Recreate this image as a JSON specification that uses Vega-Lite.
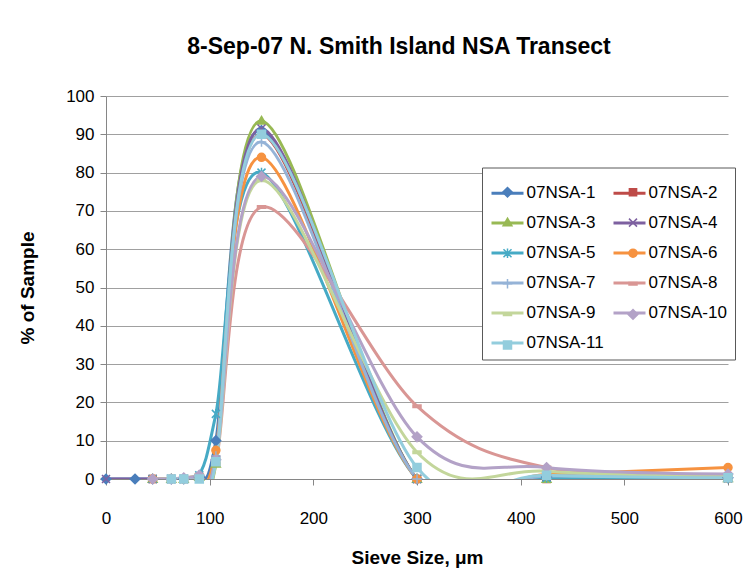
{
  "$schema": "https://vega.github.io/schema/vega-lite/v6.json",
  "width": 622,
  "height": 383,
  "autosize": "none",
  "padding": {"left": 106, "top": 96, "right": 21, "bottom": 95},
  "background": "#ffffff",
  "config": {
    "view": {"stroke": null},
    "font": "Liberation Sans"
  },
  "title": {
    "text": "8-Sep-07 N. Smith Island NSA Transect",
    "font": "Liberation Sans",
    "fontSize": 23,
    "fontWeight": "bold",
    "color": "#000000",
    "anchor": "middle",
    "dx": -18,
    "offset": 28
  },
  "data": {
    "values": [
      {"s": "07NSA-1", "x": 0, "y": 0},
      {"s": "07NSA-1", "x": 28, "y": 0},
      {"s": "07NSA-1", "x": 45, "y": 0},
      {"s": "07NSA-1", "x": 63, "y": 0},
      {"s": "07NSA-1", "x": 75, "y": 0},
      {"s": "07NSA-1", "x": 90, "y": 0.5},
      {"s": "07NSA-1", "x": 106, "y": 10},
      {"s": "07NSA-1", "x": 150, "y": 91},
      {"s": "07NSA-1", "x": 300, "y": 0},
      {"s": "07NSA-1", "x": 425, "y": 0.5},
      {"s": "07NSA-1", "x": 600, "y": 0.3},

      {"s": "07NSA-2", "x": 45, "y": 0},
      {"s": "07NSA-2", "x": 63, "y": 0},
      {"s": "07NSA-2", "x": 75, "y": 0},
      {"s": "07NSA-2", "x": 90, "y": 0.5},
      {"s": "07NSA-2", "x": 106, "y": 5},
      {"s": "07NSA-2", "x": 150, "y": 90},
      {"s": "07NSA-2", "x": 300, "y": 0},
      {"s": "07NSA-2", "x": 425, "y": 0},
      {"s": "07NSA-2", "x": 600, "y": 0.2},

      {"s": "07NSA-3", "x": 45, "y": 0},
      {"s": "07NSA-3", "x": 63, "y": 0},
      {"s": "07NSA-3", "x": 75, "y": 0},
      {"s": "07NSA-3", "x": 90, "y": 0.5},
      {"s": "07NSA-3", "x": 106, "y": 4},
      {"s": "07NSA-3", "x": 150, "y": 93.5},
      {"s": "07NSA-3", "x": 300, "y": 0},
      {"s": "07NSA-3", "x": 425, "y": 0},
      {"s": "07NSA-3", "x": 600, "y": 0.2},

      {"s": "07NSA-4", "x": 0, "y": 0},
      {"s": "07NSA-4", "x": 45, "y": 0},
      {"s": "07NSA-4", "x": 63, "y": 0},
      {"s": "07NSA-4", "x": 75, "y": 0},
      {"s": "07NSA-4", "x": 90, "y": 0.5},
      {"s": "07NSA-4", "x": 106, "y": 5},
      {"s": "07NSA-4", "x": 150, "y": 91.5},
      {"s": "07NSA-4", "x": 300, "y": 0},
      {"s": "07NSA-4", "x": 425, "y": 0.5},
      {"s": "07NSA-4", "x": 600, "y": 0.3},

      {"s": "07NSA-5", "x": 45, "y": 0},
      {"s": "07NSA-5", "x": 63, "y": 0},
      {"s": "07NSA-5", "x": 75, "y": 0},
      {"s": "07NSA-5", "x": 90, "y": 1},
      {"s": "07NSA-5", "x": 106, "y": 17},
      {"s": "07NSA-5", "x": 150, "y": 80},
      {"s": "07NSA-5", "x": 300, "y": 0},
      {"s": "07NSA-5", "x": 425, "y": 0.3},
      {"s": "07NSA-5", "x": 600, "y": 0.2},

      {"s": "07NSA-6", "x": 45, "y": 0},
      {"s": "07NSA-6", "x": 63, "y": 0},
      {"s": "07NSA-6", "x": 75, "y": 0},
      {"s": "07NSA-6", "x": 90, "y": 0.5},
      {"s": "07NSA-6", "x": 106, "y": 7.5},
      {"s": "07NSA-6", "x": 150, "y": 84},
      {"s": "07NSA-6", "x": 300, "y": 0},
      {"s": "07NSA-6", "x": 425, "y": 1.2},
      {"s": "07NSA-6", "x": 600, "y": 3},

      {"s": "07NSA-7", "x": 45, "y": 0},
      {"s": "07NSA-7", "x": 63, "y": 0},
      {"s": "07NSA-7", "x": 75, "y": 0},
      {"s": "07NSA-7", "x": 90, "y": 0.5},
      {"s": "07NSA-7", "x": 106, "y": 6},
      {"s": "07NSA-7", "x": 150, "y": 88},
      {"s": "07NSA-7", "x": 300, "y": 0},
      {"s": "07NSA-7", "x": 425, "y": 0.8},
      {"s": "07NSA-7", "x": 600, "y": 0.5},

      {"s": "07NSA-8", "x": 45, "y": 0},
      {"s": "07NSA-8", "x": 63, "y": 0},
      {"s": "07NSA-8", "x": 75, "y": 0.3},
      {"s": "07NSA-8", "x": 90, "y": 1},
      {"s": "07NSA-8", "x": 106, "y": 4},
      {"s": "07NSA-8", "x": 150, "y": 71},
      {"s": "07NSA-8", "x": 300, "y": 19},
      {"s": "07NSA-8", "x": 425, "y": 3},
      {"s": "07NSA-8", "x": 600, "y": 1},

      {"s": "07NSA-9", "x": 45, "y": 0},
      {"s": "07NSA-9", "x": 63, "y": 0},
      {"s": "07NSA-9", "x": 75, "y": 0.2},
      {"s": "07NSA-9", "x": 90, "y": 1},
      {"s": "07NSA-9", "x": 106, "y": 4},
      {"s": "07NSA-9", "x": 150, "y": 78},
      {"s": "07NSA-9", "x": 300, "y": 7},
      {"s": "07NSA-9", "x": 425, "y": 2},
      {"s": "07NSA-9", "x": 600, "y": 1},

      {"s": "07NSA-10", "x": 45, "y": 0},
      {"s": "07NSA-10", "x": 63, "y": 0},
      {"s": "07NSA-10", "x": 75, "y": 0.3},
      {"s": "07NSA-10", "x": 90, "y": 1},
      {"s": "07NSA-10", "x": 106, "y": 5},
      {"s": "07NSA-10", "x": 150, "y": 79},
      {"s": "07NSA-10", "x": 300, "y": 11},
      {"s": "07NSA-10", "x": 425, "y": 3},
      {"s": "07NSA-10", "x": 600, "y": 1.3},

      {"s": "07NSA-11", "x": 63, "y": 0},
      {"s": "07NSA-11", "x": 75, "y": 0},
      {"s": "07NSA-11", "x": 90, "y": 0},
      {"s": "07NSA-11", "x": 106, "y": 4.5},
      {"s": "07NSA-11", "x": 150, "y": 90},
      {"s": "07NSA-11", "x": 300, "y": 3},
      {"s": "07NSA-11", "x": 425, "y": 1},
      {"s": "07NSA-11", "x": 600, "y": 0.3}
    ]
  },
  "encoding": {
    "x": {
      "field": "x",
      "type": "quantitative",
      "scale": {"domain": [0, 600], "nice": false, "zero": false},
      "axis": {
        "title": "Sieve Size, μm",
        "values": [0, 100, 200, 300, 400, 500, 600],
        "grid": false,
        "labelFlush": false,
        "labelFont": "Liberation Sans",
        "labelFontSize": 17,
        "labelColor": "#000000",
        "labelPadding": 25,
        "tickSize": 6,
        "tickColor": "#868686",
        "domainColor": "#868686",
        "titleFont": "Liberation Sans",
        "titleFontSize": 19,
        "titleFontWeight": "bold",
        "titleColor": "#000000",
        "titlePadding": 22
      }
    },
    "y": {
      "field": "y",
      "type": "quantitative",
      "scale": {"domain": [0, 100], "nice": false},
      "axis": {
        "title": "% of Sample",
        "values": [0, 10, 20, 30, 40, 50, 60, 70, 80, 90, 100],
        "grid": true,
        "gridColor": "#a0a0a0",
        "gridWidth": 1,
        "labelFont": "Liberation Sans",
        "labelFontSize": 17,
        "labelColor": "#000000",
        "labelPadding": 6,
        "tickSize": 6,
        "tickColor": "#868686",
        "domainColor": "#868686",
        "titleFont": "Liberation Sans",
        "titleFontSize": 19,
        "titleFontWeight": "bold",
        "titleColor": "#000000",
        "titlePadding": 28
      }
    }
  },
  "layer": [
    {
      "mark": {"type": "line", "interpolate": "cardinal", "strokeWidth": 3, "clip": true},
      "encoding": {
        "color": {
          "field": "s",
          "type": "nominal",
          "scale": {
            "range": ["#4A7EBB", "#B3A2C7", "#93CDDD", "#BE4B48", "#98B954", "#7D60A0", "#46AAC5", "#F69240", "#95B3D7", "#D99694", "#C3D69B"]
          },
          "legend": {
            "orient": "none",
            "legendX": 376,
            "legendY": 71.5,
            "columns": 2,
            "direction": "horizontal",
            "title": null,
            "values": ["07NSA-1", "07NSA-2", "07NSA-3", "07NSA-4", "07NSA-5", "07NSA-6", "07NSA-7", "07NSA-8", "07NSA-9", "07NSA-10", "07NSA-11"],
            "labelFont": "Liberation Sans",
            "labelFontSize": 17,
            "labelColor": "#000000",
            "labelLimit": 300,
            "symbolType": "stroke",
            "symbolSize": 1024,
            "symbolStrokeWidth": 3,
            "symbolOffset": 0,
            "labelOffset": 1.5,
            "rowPadding": 4,
            "columnPadding": 3,
            "padding": 8,
            "strokeColor": "#595959",
            "fillColor": "#ffffff"
          }
        }
      }
    },
    {
      "mark": {"type": "point", "filled": true, "size": 64, "strokeWidth": 1.5, "opacity": 1},
      "encoding": {
        "stroke": {
          "field": "s",
          "type": "nominal",
          "scale": {
            "domain": ["07NSA-1", "07NSA-2", "07NSA-3", "07NSA-4", "07NSA-5", "07NSA-6", "07NSA-7", "07NSA-8", "07NSA-9", "07NSA-10", "07NSA-11"],
            "range": ["#4A7EBB", "#BE4B48", "#98B954", "#7D60A0", "#46AAC5", "#F69240", "#95B3D7", "#D99694", "#C3D69B", "#B3A2C7", "#93CDDD"]
          }
        },
        "fill": {
          "field": "s",
          "type": "nominal",
          "scale": {
            "domain": ["07NSA-1", "07NSA-2", "07NSA-3", "07NSA-4", "07NSA-5", "07NSA-6", "07NSA-7", "07NSA-8", "07NSA-9", "07NSA-10", "07NSA-11"],
            "range": ["#4A7EBB", "#BE4B48", "#98B954", "#7D60A0", "#46AAC5", "#F69240", "#95B3D7", "#D99694", "#C3D69B", "#B3A2C7", "#93CDDD"]
          }
        },
        "shape": {
          "field": "s",
          "type": "nominal",
          "scale": {
            "domain": ["07NSA-1", "07NSA-2", "07NSA-3", "07NSA-4", "07NSA-5", "07NSA-6", "07NSA-7", "07NSA-8", "07NSA-9", "07NSA-10", "07NSA-11"],
            "range": [
              "M0,-1.2L1.2,0L0,1.2L-1.2,0Z",
              "M-0.9,-0.9L0.9,-0.9L0.9,0.9L-0.9,0.9Z",
              "M0,-1.1L1.1,0.8L-1.1,0.8Z",
              "M-1,-1L1,1M-1,1L1,-1",
              "M-1,-1L1,1M-1,1L1,-1M0,-1.2L0,1.2",
              "M-1,0A1,1,0,1,1,1,0A1,1,0,1,1,-1,0Z",
              "M-1.2,0L1.2,0M0,-1.2L0,1.2",
              "M-1,-0.3L1,-0.3L1,0.3L-1,0.3Z",
              "M-1,-0.3L1,-0.3L1,0.3L-1,0.3Z",
              "M0,-1.2L1.2,0L0,1.2L-1.2,0Z",
              "M-1,-1L1,-1L1,1L-1,1Z"
            ]
          },
          "legend": {
            "orient": "none",
            "legendX": 376,
            "legendY": 79.5,
            "columns": 2,
            "direction": "horizontal",
            "title": null,
            "labelExpr": "' '",
            "labelFont": "Liberation Sans",
            "labelFontSize": 17,
            "labelColor": "#000000",
            "labelOpacity": 0,
            "labelLimit": 300,
            "symbolSize": 64,
            "symbolStrokeWidth": 1.5,
            "symbolOffset": 9,
            "labelOffset": -17,
            "rowPadding": 12.6,
            "columnPadding": 99.5,
            "padding": 8
          }
        }
      }
    }
  ]
}
